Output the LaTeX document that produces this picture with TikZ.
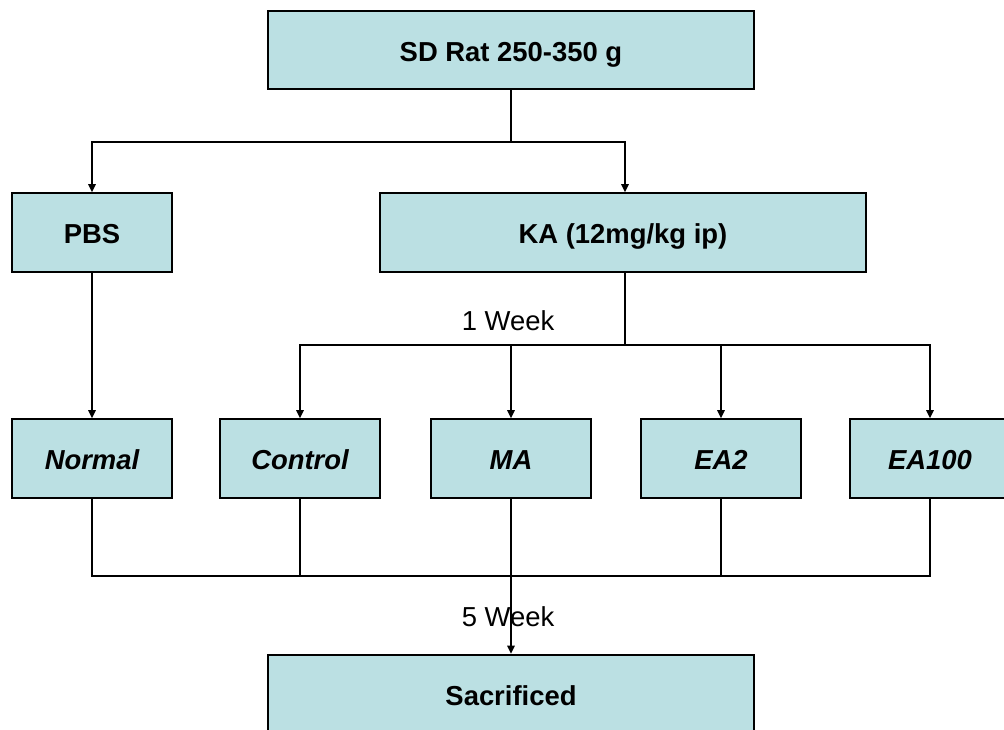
\documentclass[tikz,border=0pt]{standalone}
\usepackage{fontspec}
\setmainfont{Liberation Sans}
\usetikzlibrary{arrows.meta,positioning}
\definecolor{ratbox}{HTML}{BBE0E3}

\begin{document}
\begin{tikzpicture}[x=0.025cm, y=-0.025cm, every node/.style={font=\fontsize{19.5}{23}\selectfont},
 box/.style={draw=black,line width=1.5pt,fill=ratbox,minimum height=1.96cm,inner sep=0pt,text height=20pt,text depth=4pt,font=\fontsize{19.5}{23}\selectfont\bfseries},
 wide/.style={box,minimum width=12.15cm},
 group/.style={box,minimum width=4cm,font=\fontsize{19.5}{23}\selectfont\bfseries\itshape},
 link/.style={line width=1.5pt},
 arr/.style={-{Triangle[length=2mm,width=1.8mm]},line width=1.5pt}]
\useasboundingbox (0,0) rectangle (1004,729);
\node[wide] (rat) at (511,50) {SD Rat 250-350 g};
\node[box,minimum width=4.02cm] (pbs) at (92,232.5) {PBS};
\node[wide] (ka) at (623,232.5) {KA (12mg/kg ip)};
\node[group] (normal) at (92,458.5) {Normal};
\node[group] (control) at (300,458.5) {Control};
\node[group] (ma) at (511,458.5) {MA};
\node[group] (ea2) at (721,458.5) {EA2};
\node[group] (ea100) at (930,458.5) {EA100};
\node[wide] (sac) at (511,694) {Sacrificed};
\node (week1) at (508,321) {1 Week};
\node (week5) at (508,617) {5 Week};
\coordinate (split) at (511,142);
\coordinate (branch) at (625,345);
\coordinate (merge) at (511,576);
\draw[link] (rat) -- (split);
\draw[arr] (split) -| (pbs); \draw[arr] (split) -| (ka.north -| branch);
\draw[arr] (pbs) -- (normal);
\draw[link] (ka.south -| branch) -- (branch);
\draw[arr] (branch) -| (control); \draw[arr] (branch) -| (ma);
\draw[arr] (branch) -| (ea2); \draw[arr] (branch) -| (ea100);
\draw[link] (normal) |- (merge); \draw[link] (control) |- (merge);
\draw[link] (ea2) |- (merge); \draw[link] (ea100) |- (merge);
\draw[arr] (ma) -- (sac);
\end{tikzpicture}
\end{document}
